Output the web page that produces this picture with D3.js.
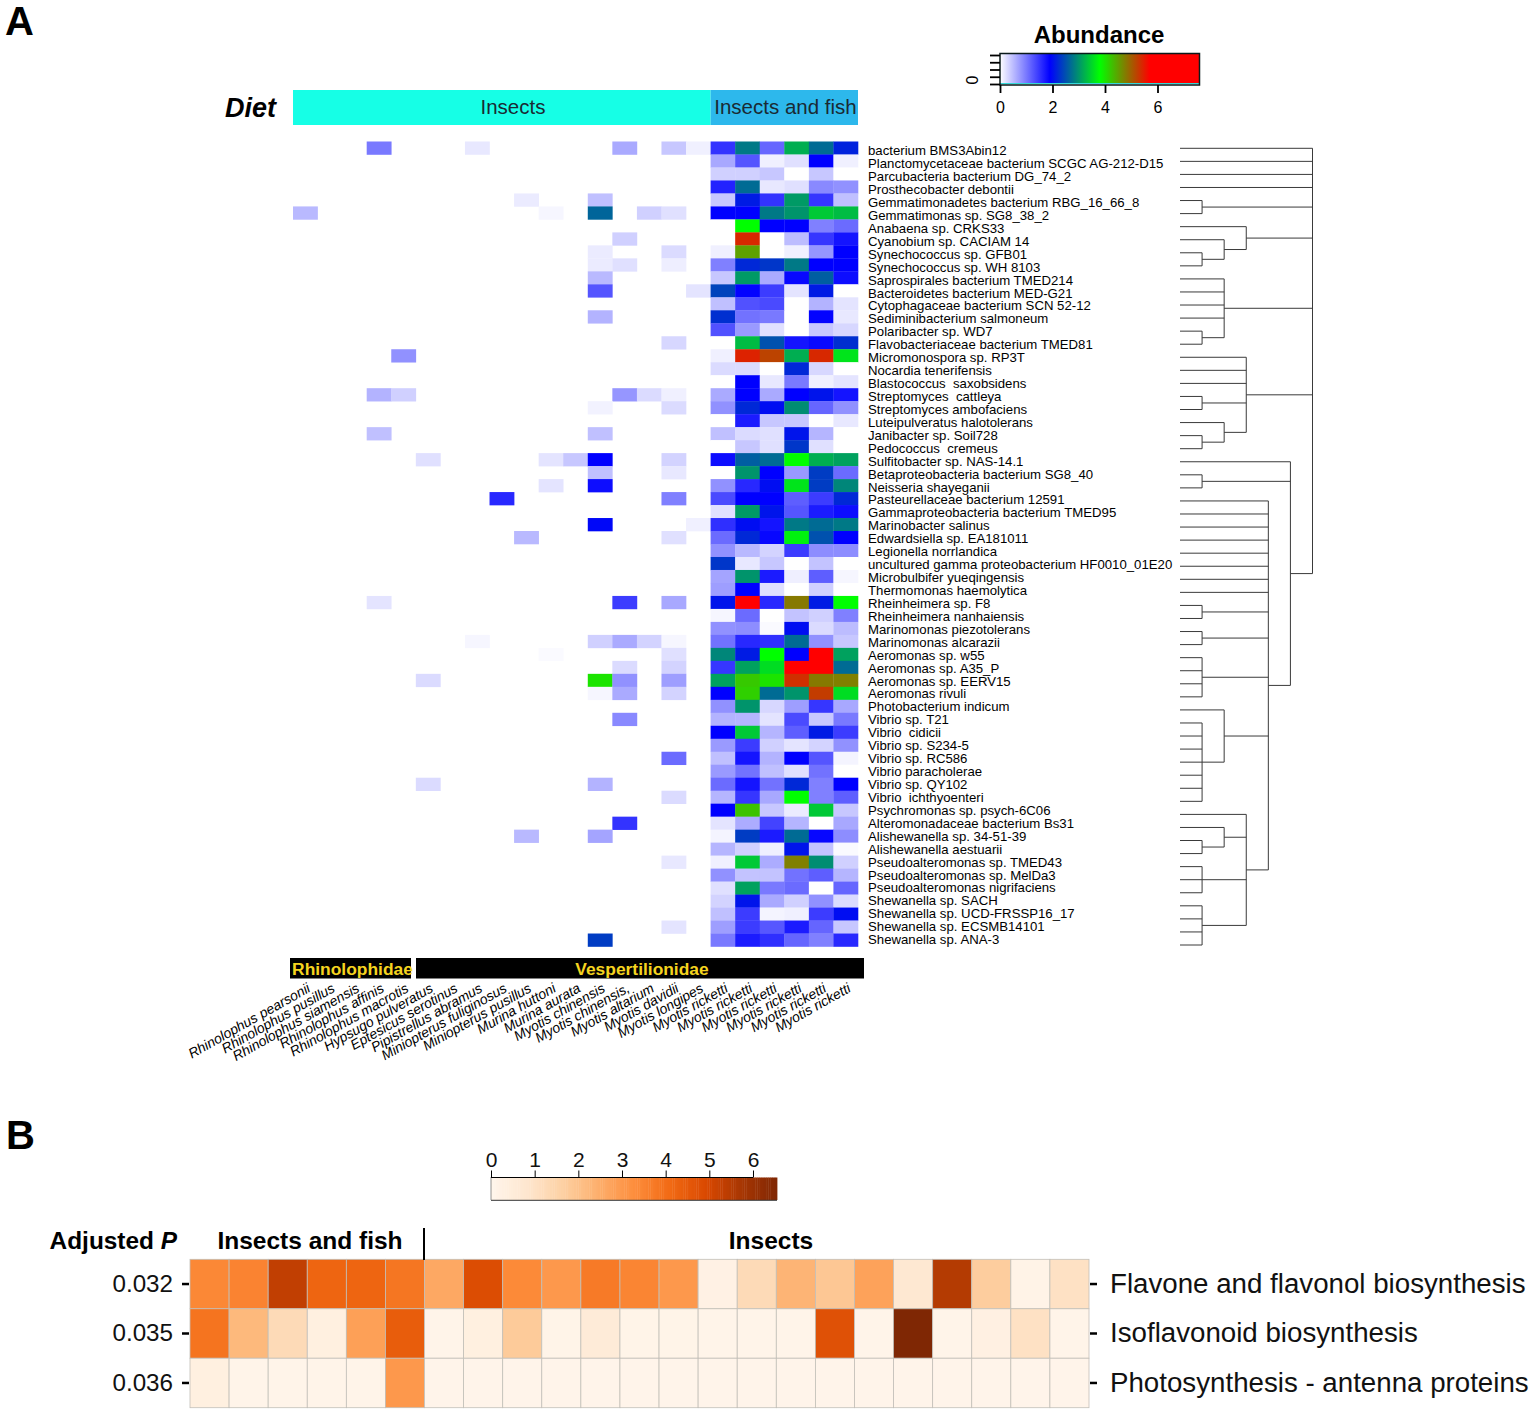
<!DOCTYPE html>
<html>
<head>
<meta charset="utf-8">
<script src="https://cdn.jsdelivr.net/npm/d3@7"></script>
<style>
  body { margin: 0; background: #fff; }
  svg { display: block; font-family: "Liberation Sans", Arial, sans-serif; }
  .domain { display: none; }
</style>
</head>
<body>
<div id="chart"></div>
<script>
const speciesNames = [
  'bacterium BMS3Abin12', 'Planctomycetaceae bacterium SCGC AG-212-D15', 'Parcubacteria bacterium DG_74_2',
  'Prosthecobacter debontii', 'Gemmatimonadetes bacterium RBG_16_66_8', 'Gemmatimonas sp. SG8_38_2',
  'Anabaena sp. CRKS33', 'Cyanobium sp. CACIAM 14', 'Synechococcus sp. GFB01', 'Synechococcus sp. WH 8103',
  'Saprospirales bacterium TMED214', 'Bacteroidetes bacterium MED-G21', 'Cytophagaceae bacterium SCN 52-12',
  'Sediminibacterium salmoneum', 'Polaribacter sp. WD7', 'Flavobacteriaceae bacterium TMED81',
  'Micromonospora sp. RP3T', 'Nocardia tenerifensis', 'Blastococcus  saxobsidens', 'Streptomyces  cattleya',
  'Streptomyces ambofaciens', 'Luteipulveratus halotolerans', 'Janibacter sp. Soil728', 'Pedococcus  cremeus',
  'Sulfitobacter sp. NAS-14.1', 'Betaproteobacteria bacterium SG8_40', 'Neisseria shayeganii',
  'Pasteurellaceae bacterium 12591', 'Gammaproteobacteria bacterium TMED95', 'Marinobacter salinus',
  'Edwardsiella sp. EA181011', 'Legionella norrlandica', 'uncultured gamma proteobacterium HF0010_01E20',
  'Microbulbifer yueqingensis', 'Thermomonas haemolytica', 'Rheinheimera sp. F8', 'Rheinheimera nanhaiensis',
  'Marinomonas piezotolerans', 'Marinomonas alcarazii', 'Aeromonas sp. w55', 'Aeromonas sp. A35_P',
  'Aeromonas sp. EERV15', 'Aeromonas rivuli', 'Photobacterium indicum', 'Vibrio sp. T21', 'Vibrio  cidicii',
  'Vibrio sp. S234-5', 'Vibrio sp. RC586', 'Vibrio paracholerae', 'Vibrio sp. QY102', 'Vibrio  ichthyoenteri',
  'Psychromonas sp. psych-6C06', 'Alteromonadaceae bacterium Bs31', 'Alishewanella sp. 34-51-39',
  'Alishewanella aestuarii', 'Pseudoalteromonas sp. TMED43', 'Pseudoalteromonas sp. MelDa3',
  'Pseudoalteromonas nigrifaciens', 'Shewanella sp. SACH', 'Shewanella sp. UCD-FRSSP16_17',
  'Shewanella sp. ECSMB14101', 'Shewanella sp. ANA-3'
];

const batSpecies = [
  'Rhinolophus pearsonii', 'Rhinolophus pusillus', 'Rhinolophus siamensis', 'Rhinolophus affinis',
  'Rhinolophus macrotis', 'Hypsugo pulveratus', 'Eptesicus serotinus', 'Pipistrellus abramus',
  'Miniopterus fuliginosus', 'Miniopterus pusillus', 'Murina huttoni', 'Murina aurata', 'Myotis chinensis',
  'Myotis chinensis,', 'Myotis altarium', 'Myotis davidii', 'Myotis longipes', 'Myotis ricketti',
  'Myotis ricketti', 'Myotis ricketti', 'Myotis ricketti', 'Myotis ricketti', 'Myotis ricketti'
];

// species index, bat index, abundance (insect eating bats, nearly empty)
const insectAbundance = [
  [0,3,1.0],[0,7,.17],[0,13,.63],[0,15,.42],[0,16,.11],
  [4,9,.15],[4,12,.47],
  [5,0,.52],[5,10,.07],[5,12,2.65],[5,14,.35],[5,15,.23],
  [7,13,.35],[8,12,.15],[8,15,.27],[9,12,.15],[9,13,.23],[9,15,.13],
  [10,12,.52],[11,12,1.27],[11,16,.2],[13,12,.57],[15,15,.3],[16,4,.82],
  [19,3,.57],[19,4,.35],[19,13,.78],[19,14,.27],[19,15,.11],
  [20,12,.1],[20,15,.27],[22,3,.47],[22,12,.47],
  [24,5,.23],[24,10,.2],[24,11,.42],[24,12,1.9],[24,15,.33],
  [25,12,.47],[25,15,.17],[26,10,.2],[26,12,1.8],[27,8,1.6],[27,15,.95],
  [29,12,1.95],[29,16,.11],[30,9,.52],[30,15,.23],
  [35,3,.2],[35,13,1.45],[35,15,.65],
  [38,7,.07],[38,12,.35],[38,13,.63],[38,14,.33],[38,15,.07],
  [39,10,.04],[39,15,.23],[40,13,.27],[40,15,.33],
  [41,5,.27],[41,12,4.0],[41,13,.82],[41,15,.72],
  [42,12,.07],[42,13,.63],[42,15,.33],[44,13,.88],[47,15,1.1],
  [49,5,.27],[49,12,.57],[50,15,.27],[52,13,1.52],[53,9,.52],[53,12,.68],
  [55,15,.17],[60,15,.2],[61,12,2.35]
];

// one row per species, the six insect and fish columns
const fishAbundance = [
  [1.52,2.8,1.14,3.2,2.7,2.15],
  [.65,1.27,.11,.23,1.9,.11],
  [.35,.35,.42,0,.42,0],
  [1.65,2.7,.17,.23,.88,.82],
  [.42,2.1,1.52,3.05,1.5,.47],
  [1.9,1.9,2.8,3.0,3.4,3.3],
  [0,3.8,1.9,1.9,.95,1.1],
  [0,5.4,0,.5,1.5,1.75],
  [.11,4.5,0,.11,.78,1.9],
  [.95,2.2,2.3,2.8,1.9,1.9],
  [.42,3.05,.63,1.85,2.6,1.8],
  [2.4,1.88,1.45,.2,2.1,0],
  [.47,1.3,1.35,0,.57,.2],
  [2.25,1.05,1.0,0,1.88,.17],
  [1.3,.75,.23,0,.42,.3],
  [0,3.3,2.5,1.75,1.83,2.25],
  [.11,5.45,5.2,3.2,5.4,3.6],
  [.27,.27,0,2.2,.3,0],
  [0,1.9,.17,1.0,.11,.2],
  [.63,1.9,.63,1.9,2.05,1.75],
  [.82,2.2,2.0,2.95,1.14,.82],
  [0,1.7,.42,.42,0,.17],
  [.47,.27,.23,2.05,.55,0],
  [0,.42,.23,2.3,.23,0],
  [1.8,2.6,2.7,3.8,3.2,3.1],
  [0,3.0,1.9,.76,2.35,1.1],
  [.82,1.6,2.0,3.6,2.35,2.9],
  [1.35,1.9,1.9,1.2,1.45,2.2],
  [.23,3.05,2.05,1.27,1.7,1.8],
  [1.55,2.0,1.75,2.8,2.7,2.8],
  [1.1,2.2,1.85,3.7,2.5,1.9],
  [.82,.52,.33,1.45,.85,.85],
  [2.3,.17,.42,0,.45,0],
  [.68,3.0,1.7,.12,1.2,.07],
  [.72,1.9,.23,0,.35,0],
  [2.05,5.7,1.6,4.8,2.1,3.8],
  [.07,1.1,0,.45,.35,.95],
  [.82,.85,.04,2.0,.27,.5],
  [1.05,1.6,1.55,2.7,.82,.42],
  [2.9,2.1,3.8,1.9,5.7,3.1],
  [1.5,3.1,3.55,5.7,5.7,2.7],
  [3.1,4.2,4.0,5.35,4.8,4.75],
  [1.9,4.15,2.7,3.0,5.25,3.55],
  [.82,3.0,.3,.72,1.5,.65],
  [.57,.55,.2,1.35,.42,1.0],
  [1.9,3.4,.55,1.2,2.1,1.45],
  [.75,1.45,.35,.2,.33,.82],
  [.47,1.75,.57,1.9,1.27,.08],
  [.75,1.05,.47,.23,1.05,0],
  [1.1,1.75,1.05,2.2,.95,1.9],
  [.55,1.5,.65,3.8,.95,1.2],
  [1.9,4.25,.42,.15,3.4,.42],
  [.2,.62,1.4,.55,0,.65],
  [.08,2.35,1.7,2.7,1.85,.85],
  [.55,.35,.11,2.05,.45,.04],
  [.11,3.4,.62,4.75,2.95,.35],
  [.82,.45,.45,1.05,1.2,.55],
  [.23,3.1,1.0,1.1,0,1.15],
  [.33,2.05,.63,.35,.82,.27],
  [.47,1.45,.08,.11,1.45,2.0],
  [.72,1.45,1.25,1.7,1.15,.42],
  [1.0,1.7,1.55,1.15,.95,1.6]
];

// nested clusters: first item is the merge level, the rest are children (species index or cluster)
const speciesTree = [6, 0, 1, 2, 3,
  [1, 4, 5],
  [3, 6, [2, 7, [1, 8, 9]]],
  [2, 10, 11, 12, 13, [1, 14, 15]],
  [3, 16, 17, 18, [1, 19, 20], [2, 21, [1, 22, 23]]],
  [5, 24, [1, 25, 26],
    [4, 27, 28, 29, 30, 31, 32, 33, 34,
      [1, 35, 36], [1, 37, 38], [1, 39, 40, 41, 42],
      [2, 43, [1, 44, 45, 46, 47, 48, 49, 50]],
      [3, 51, [2, 52, [1, 53, 54]], [1, 55, 56, 57], [1, 58, 59, 60, 61]]]]
];

const abundanceTicks = [0, 2, 4, 6];
const abundanceStops = [0, 1.9, 3.8, 5.7, 7.6];
const abundanceColors = ['#ffffff', '#0000ff', '#00ff00', '#ff0000', '#ff0000'];

const pathwayNames = ['Flavone and flavonol biosynthesis', 'Isoflavonoid biosynthesis', 'Photosynthesis - antenna proteins'];
const adjustedP = ['0.032', '0.035', '0.036'];
const pathwayValues = [
  [3.4,3.5,5.3,4.2,4.2,3.8,2.6,4.8,3.35,3.0,3.7,3.45,3.0,.2,1.25,2.3,1.85,2.75,.7,5.5,1.7,.1,1.0],
  [3.85,2.2,1.25,.3,2.8,4.4,.05,.3,1.75,.08,.55,.08,.08,.05,.05,.05,4.7,.05,6.55,.05,.25,1.0,.05],
  [.3,.05,.05,.05,.05,3.0,.03,.03,.03,.03,.03,.03,.03,.03,.03,.03,.03,.03,.03,.03,.03,.03,.03]
];
const pathwayTicks = [0, 1, 2, 3, 4, 5, 6];

const width = 1535;
const height = 1415;

const svg = d3.select('#chart').append('svg')
  .attr('width', width)
  .attr('height', height)
  .attr('viewBox', [0, 0, width, height]);

svg.append('text').attr('x', 5).attr('y', 35).attr('font-size', 40).attr('font-weight', 'bold').text('A');
svg.append('text').attr('x', 6).attr('y', 1149).attr('font-size', 40).attr('font-weight', 'bold').text('B');

// ---- panel A heatmap
const x = d3.scaleBand().domain(d3.range(batSpecies.length)).range([293, 858]);
const y = d3.scaleBand().domain(d3.range(speciesNames.length)).range([141.5, 946.5]);
const abundanceColor = d3.scaleLinear().domain(abundanceStops).range(abundanceColors);

const cells = insectAbundance.map(([row, col, value]) => ({ row, col, value }));
fishAbundance.forEach((values, row) => values.forEach((value, i) => cells.push({ row, col: 17 + i, value })));

svg.append('g')
  .selectAll('rect')
  .data(cells)
  .join('rect')
    .attr('x', d => x(d.col))
    .attr('y', d => y(d.row))
    .attr('width', x.bandwidth() + 0.3)
    .attr('height', y.bandwidth() + 0.3)
    .attr('fill', d => abundanceColor(d.value));

// species names
const labelY = d3.scalePoint().domain(d3.range(speciesNames.length)).range([150.5, 939.5]);
svg.append('g')
  .attr('transform', 'translate(868,0)')
  .call(d3.axisRight(labelY).tickSize(0).tickPadding(0).tickFormat(i => speciesNames[i]))
  .call(g => g.selectAll('text')
    .attr('font-size', 13.2).attr('fill', '#000').attr('font-family', '"Liberation Sans", Arial, sans-serif')
    .style('white-space', 'pre'));

// diet strip
svg.append('text').attr('x', 225).attr('y', 117).attr('font-size', 27)
  .attr('font-weight', 'bold').attr('font-style', 'italic').text('Diet');
const dietBars = [
  { label: 'Insects', from: 0, to: 16, labelX: 513, fill: '#16ffe6' },
  { label: 'Insects and fish', from: 17, to: 22, labelX: 785.5, fill: '#2db8ec' }
];
svg.append('g').selectAll('rect').data(dietBars).join('rect')
  .attr('x', d => x(d.from))
  .attr('y', 90)
  .attr('width', d => x(d.to) + x.bandwidth() - x(d.from))
  .attr('height', 35)
  .attr('fill', d => d.fill);
svg.append('g').selectAll('text').data(dietBars).join('text')
  .attr('x', d => d.labelX)
  .attr('y', 114)
  .attr('text-anchor', 'middle')
  .attr('font-size', 20.5)
  .attr('fill', '#1a2a33')
  .text(d => d.label);

// family strip
const families = [
  { label: 'Rhinolophidae', x0: 290, x1: 411 },
  { label: 'Vespertilionidae', x0: 416, x1: 864 }
];
svg.append('g').selectAll('rect').data(families).join('rect')
  .attr('x', d => d.x0).attr('y', 958)
  .attr('width', d => d.x1 - d.x0).attr('height', 20.5)
  .attr('fill', '#000');
svg.append('g').selectAll('text').data(families).join('text')
  .attr('x', d => (d.x0 + d.x1) / 2 + 2).attr('y', 974.5)
  .attr('text-anchor', 'middle')
  .attr('font-size', 17.4).attr('font-weight', 'bold').attr('fill', '#f5d41f')
  .text(d => d.label);

// bat names
svg.append('g')
  .attr('transform', 'translate(6,991)')
  .call(d3.axisBottom(x).tickSize(0).tickPadding(0).tickFormat(i => batSpecies[i]))
  .call(g => g.selectAll('text')
    .attr('y', 0).attr('dy', 0)
    .attr('transform', 'rotate(-29.5)')
    .attr('text-anchor', 'end')
    .attr('font-size', 13.9).attr('font-style', 'italic').attr('fill', '#000')
    .attr('font-family', '"Liberation Sans", Arial, sans-serif'));

// dendrogram
const treeX = d3.scaleLinear().domain([0, 6]).range([1180, 1312.5]);
const leafY = d3.scalePoint().domain(d3.range(speciesNames.length)).range([148.3, 945]);
const root = d3.hierarchy(speciesTree, d => Array.isArray(d) ? d.slice(1) : null);
root.eachAfter(n => {
  if (n.children) {
    n.py = (n.children[0].py + n.children[n.children.length - 1].py) / 2;
    n.px = treeX(n.data[0]);
  } else {
    n.py = leafY(n.data);
    n.px = treeX(0);
  }
});
const treePath = d3.path();
root.each(n => {
  if (!n.children) return;
  treePath.moveTo(n.px, n.children[0].py);
  treePath.lineTo(n.px, n.children[n.children.length - 1].py);
  n.children.forEach(c => {
    treePath.moveTo(c.px, c.py);
    treePath.lineTo(n.px, c.py);
  });
});
svg.append('path').attr('d', treePath.toString()).attr('fill', 'none').attr('stroke', '#3a3a3a').attr('stroke-width', 1);

// abundance legend
svg.append('text').attr('x', 1099).attr('y', 43).attr('text-anchor', 'middle')
  .attr('font-size', 24).attr('font-weight', 'bold').text('Abundance');
const legendX = d3.scaleLinear().domain([0, 7.6]).range([1000, 1199.5]);
const legendGradient = svg.append('defs').append('linearGradient').attr('id', 'abundance-ramp');
legendGradient.selectAll('stop').data(abundanceStops).join('stop')
  .attr('offset', d => d / 7.6)
  .attr('stop-color', d => abundanceColor(d));
svg.append('rect').attr('x', 1000).attr('y', 54).attr('width', 199.5).attr('height', 29)
  .attr('fill', 'url(#abundance-ramp)');
svg.append('rect').attr('x', 1000).attr('y', 83).attr('width', 199.5).attr('height', 1.2).attr('fill', '#35d8d8');
svg.append('rect').attr('x', 1000).attr('y', 53.5).attr('width', 199.5).attr('height', 31.5)
  .attr('fill', 'none').attr('stroke', '#0a1a1a').attr('stroke-width', 1.5);
svg.append('g')
  .attr('transform', 'translate(0,85)')
  .call(d3.axisBottom(legendX).tickValues(abundanceTicks).tickSize(8).tickPadding(9).tickFormat(d3.format('d')))
  .call(g => g.selectAll('line').attr('stroke', '#000').attr('stroke-width', 1.8))
  .call(g => g.selectAll('text').attr('font-size', 16).attr('fill', '#000').attr('font-family', '"Liberation Sans", Arial, sans-serif'));
const legendY = d3.scaleLinear().domain([0, 4]).range([84, 55]);
svg.append('g')
  .attr('transform', 'translate(1000,0)')
  .call(d3.axisLeft(legendY).ticks(5).tickSize(10).tickFormat(''))
  .call(g => g.selectAll('line').attr('stroke', '#000').attr('stroke-width', 1.8));
svg.append('text').attr('transform', 'translate(978,80) rotate(-90)').attr('text-anchor', 'middle')
  .attr('font-size', 16).text('0');

// ---- panel B heatmap
const bx = d3.scaleBand().domain(d3.range(pathwayValues[0].length)).range([190, 1089]);
const by = d3.scaleBand().domain(d3.range(pathwayNames.length)).range([1259.3, 1407.7]);
const pathwayMax = 6.55;
const pathwayColor = d3.scaleLinear()
  .domain(d3.schemeOranges[9].map((c, i) => i * pathwayMax / 8))
  .range(d3.schemeOranges[9]);

svg.append('g').selectAll('g')
  .data(pathwayValues)
  .join('g')
  .selectAll('rect')
  .data((values, row) => values.map((value, col) => ({ row, col, value })))
  .join('rect')
    .attr('x', d => bx(d.col))
    .attr('y', d => by(d.row))
    .attr('width', bx.bandwidth())
    .attr('height', by.bandwidth())
    .attr('fill', d => pathwayColor(d.value))
    .attr('stroke', '#c2bfb8')
    .attr('stroke-width', 0.8);

svg.append('g')
  .attr('transform', 'translate(189,0)')
  .call(d3.axisLeft(by).tickSize(7).tickPadding(9).tickFormat(i => adjustedP[i]))
  .call(g => g.selectAll('line').attr('stroke', '#000').attr('stroke-width', 2.5))
  .call(g => g.selectAll('text').attr('font-size', 24.2).attr('fill', '#111').attr('font-family', '"Liberation Sans", Arial, sans-serif'));
svg.append('g')
  .attr('transform', 'translate(1090,0)')
  .call(d3.axisRight(by).tickSize(7).tickPadding(13).tickFormat(i => pathwayNames[i]))
  .call(g => g.selectAll('line').attr('stroke', '#000').attr('stroke-width', 2.5))
  .call(g => g.selectAll('text').attr('font-size', 27.7).attr('fill', '#111').attr('font-family', '"Liberation Sans", Arial, sans-serif'));

const adjusted = svg.append('text').attr('x', 177).attr('y', 1249).attr('text-anchor', 'end')
  .attr('font-size', 24.4).attr('font-weight', 'bold');
adjusted.append('tspan').text('Adjusted ');
adjusted.append('tspan').attr('font-style', 'italic').text('P');
svg.append('text').attr('x', 310).attr('y', 1249).attr('text-anchor', 'middle')
  .attr('font-size', 24.5).attr('font-weight', 'bold').text('Insects and fish');
svg.append('text').attr('x', 771).attr('y', 1249).attr('text-anchor', 'middle')
  .attr('font-size', 24.5).attr('font-weight', 'bold').text('Insects');
svg.append('line').attr('x1', 424).attr('x2', 424).attr('y1', 1228).attr('y2', 1260)
  .attr('stroke', '#000').attr('stroke-width', 2);

// pathway legend
const pathwayX = d3.scaleLinear().domain([0, pathwayMax]).range([491, 777]);
svg.append('g').selectAll('rect')
  .data(d3.range(0, pathwayMax, 0.05))
  .join('rect')
    .attr('x', d => pathwayX(d))
    .attr('y', 1177.5)
    .attr('width', pathwayX(0.05) - pathwayX(0) + 0.4)
    .attr('height', 22.5)
    .attr('fill', d => pathwayColor(d));
svg.append('line').attr('x1', 491).attr('x2', 777).attr('y1', 1200.3).attr('y2', 1200.3).attr('stroke', '#333').attr('stroke-width', 1);
svg.append('line').attr('x1', 491).attr('x2', 491).attr('y1', 1177).attr('y2', 1200).attr('stroke', '#777').attr('stroke-width', 0.8);
svg.append('g')
  .attr('transform', 'translate(0,1177.5)')
  .call(d3.axisTop(pathwayX).tickValues(pathwayTicks).tickSize(7).tickPadding(4).tickFormat(d3.format('d')))
  .call(g => g.selectAll('line').attr('stroke', '#000').attr('stroke-width', 1))
  .call(g => g.selectAll('text').attr('font-size', 21).attr('fill', '#111').attr('font-family', '"Liberation Sans", Arial, sans-serif'));
svg.append('line').attr('x1', 491).attr('x2', 753).attr('y1', 1177.5).attr('y2', 1177.5).attr('stroke', '#000').attr('stroke-width', 1.2);
</script>
</body>
</html>
